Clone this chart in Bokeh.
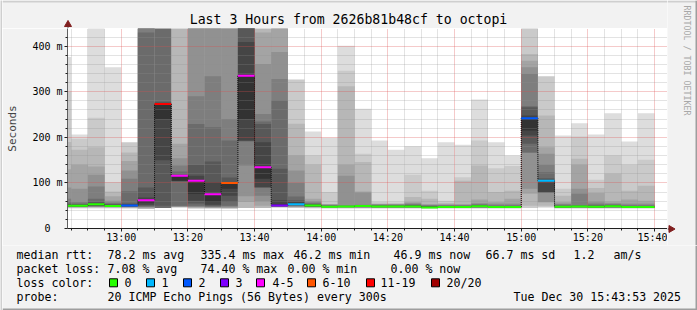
from bokeh.plotting import figure
from bokeh.layouts import column, row
from bokeh.models import FixedTicker, Range1d
from bokeh.core.properties import value
from bokeh.embed import file_html
from bokeh.resources import INLINE
from math import pi

# ---------------- data ----------------
PINGS = 20
step_start = ["12:40", "12:45", "12:50", "12:55", "13:00", "13:05", "13:10", "13:15",
              "13:20", "13:25", "13:30", "13:35", "13:40", "13:45", "13:50", "13:55",
              "14:00", "14:05", "14:10", "14:15", "14:20", "14:25", "14:30", "14:35",
              "14:40", "14:45", "14:50", "14:55", "15:00", "15:05", "15:10", "15:15",
              "15:20", "15:25", "15:30", "15:35"]
lost_pings = [0, 0, 0, 0, 2, 4, 12, 4, 4, 4, 6, 4, 4, 3, 1, 0, 0, 0,
              0, 0, 0, 0, 0, 0, 0, 0, 0, 0, 2, 1, 0, 0, 0, 0, 0, 0]
# received ping round-trip times (ms) per 5-minute step
rtt_ms = [
    [44, 45, 46, 46.5, 47, 47.5, 48, 48.5, 49, 49.5, 50, 52, 54, 57, 65, 90, 130, 190, 300, 376],
    [44, 45, 46, 46.5, 47, 47.5, 48, 48.5, 49, 49.5, 50, 51.5, 53, 55, 58, 87, 140, 173, 197, 206],
    [44, 45, 46, 47, 48, 48.5, 49, 50, 51, 52, 53, 55, 58, 65, 92, 118, 136, 178, 243, 480],
    [44, 45, 46, 46.5, 47, 47.5, 48, 48.5, 49, 49.3, 49.6, 51, 53, 55, 57, 61, 71, 81, 101.6, 354],
    [44, 45, 46, 47, 47.5, 48, 48.5, 49, 49.7, 50.4, 53, 55, 82, 109, 127, 148, 167, 189],
    [43, 45, 46, 47, 48, 50, 52, 57, 62, 68, 90, 430, 480, 520, 560, 600],
    [45, 50, 150, 240, 273, 275, 278, 500],
    [46, 47, 48, 49, 50, 103, 104, 105, 116, 117, 118, 125, 138, 154, 186, 500],
    [44, 46, 47, 48, 50, 55, 61, 76, 104.5, 116, 140, 229, 290, 480, 520, 560],
    [44, 45, 46, 47, 48, 50, 52, 58, 75, 102, 147, 222, 334, 480, 520, 560],
    [44, 46, 48, 50, 58, 72, 87, 100, 101, 112, 193, 240, 480, 520],
    [45, 58, 71, 138, 191, 192, 193, 240, 335.4, 409, 480, 520, 560, 600, 640, 680],
    [45, 50, 60, 72, 89, 90, 91, 109, 134.5, 189, 229, 235, 251, 361, 430, 470],
    [45, 46, 47, 47.5, 48, 48.5, 49, 49.5, 50.4, 53, 62, 131, 281, 328, 387, 460, 500],
    [44, 45, 46, 47, 48, 49, 50, 51, 52, 53, 55, 58, 62, 70, 100, 127, 160, 230, 327],
    [44, 45, 46, 46.5, 47, 47.5, 48, 48.5, 49, 50, 50.4, 52, 53, 55, 57, 60, 65, 140, 160, 212.6],
    [44, 44.5, 45, 45.5, 46, 46.5, 46.8, 47, 47.2, 47.4, 47.5, 48.5, 49.5, 50.5, 51.5, 52.5, 53, 54, 80, 199],
    [44, 44.5, 45, 45.5, 46, 46.5, 47, 47.3, 47.6, 47.8, 48, 49, 49.5, 50, 51, 116, 140, 312, 346, 401],
    [44, 44.5, 45, 45.5, 46, 46.5, 47, 47.5, 48, 48.5, 49.5, 50, 50.5, 51, 52, 79, 81, 146, 164, 262.5],
    [44, 44.5, 45, 45.5, 46, 46.3, 46.6, 47, 47.3, 47.6, 48, 49, 50, 51, 52, 53, 54, 55, 58, 193],
    [44, 44.5, 45, 45.5, 46, 46.3, 46.6, 47, 47.3, 47.6, 48, 49, 50, 51, 52, 53, 54, 55, 57, 173],
    [44, 44.5, 45, 45.5, 46, 46.3, 46.6, 47, 47.5, 48, 48.5, 50, 51, 52, 54, 56, 58, 69, 118, 180.6],
    [44, 44.5, 45, 45.3, 45.5, 45.7, 45.9, 46, 46.1, 46.15, 46.2, 48, 49, 50, 51, 52, 54, 65, 83, 154],
    [44, 44.5, 45, 45.5, 46, 46.2, 46.4, 46.6, 46.8, 47, 47.2, 48, 49, 50, 51, 52, 54, 56, 61, 189],
    [44, 44.5, 45, 45.5, 46, 46.2, 46.4, 46.6, 46.8, 47, 47.2, 48, 49, 50, 51, 52, 54, 105, 112.6, 184],
    [44, 44.5, 45, 45.5, 46, 46.3, 46.6, 47, 47.5, 48, 49, 50, 51, 52, 54, 56, 63.6, 138, 193, 283],
    [44, 44.5, 45, 45.5, 46, 46.2, 46.4, 46.6, 46.8, 47, 47.2, 48, 49, 50, 52, 55, 58, 80, 132, 189],
    [44, 44.5, 45, 45.5, 46, 46.2, 46.4, 46.6, 46.8, 47, 47.2, 48, 49, 50, 52, 55, 65, 83, 137, 160],
    [45, 50, 76, 87, 166, 167, 186, 204, 215, 242, 248, 266, 268, 339, 354, 368, 383, 460],
    [44, 46, 50, 57, 58, 78.5, 79, 79.5, 80, 105, 106, 107, 110, 123.5, 140, 164, 178, 248, 334],
    [44, 44.5, 45, 45.5, 46, 46.2, 46.4, 46.6, 46.8, 47, 47.5, 48.5, 49.5, 51, 53, 55, 58, 72, 87, 204],
    [44, 44.5, 45, 45.5, 46, 46.3, 46.6, 47, 47.3, 47.6, 48, 49, 50, 51, 76, 87, 140, 153, 202, 231],
    [44, 44.5, 45, 45.5, 46, 46.2, 46.4, 46.6, 46.8, 47, 47.5, 48.5, 50, 52, 55, 59, 78, 89, 107, 206],
    [44, 44.5, 45, 45.5, 46, 46.3, 46.6, 47, 47.5, 48, 49, 50, 51, 52, 54, 56, 59, 120, 160, 253],
    [44, 44.5, 45, 45.5, 46, 46.2, 46.4, 46.6, 46.8, 47, 47.2, 48, 49, 50, 52, 55, 63.6, 83, 140, 191],
    [44, 44.5, 45, 45.5, 46, 46.2, 46.4, 46.6, 46.7, 46.8, 46.9, 48, 49, 50, 52, 55, 61, 94, 151, 253],
]
loss_labels = ["0", "1", "2", "3", "4-5", "6-10", "11-19", "20/20"]
loss_colors = ["#26ff00", "#00b8ff", "#0059ff", "#7e00ff", "#ff00ff", "#ff5500", "#ff0000", "#a10000"]

y_major = [0, 100, 200, 300, 400]
y_major_labels = ["0\u00a0\u00a0", "100 m", "200 m", "300 m", "400 m"]
y_minor = [v for v in range(20, 440, 20) if v % 100]
x_major_labels = ["13:00", "13:20", "13:40", "14:00", "14:20", "14:40", "15:00", "15:20", "15:40"]

title_text = "Last 3 Hours from 2626b81b48cf to octopi"
y_title = "Seconds"
watermark = "RRDTOOL / TOBI OETIKER"
legend_rows = [
    [("median rtt:", 16), ("78.2 ms avg", 107), ("335.4 ms max", 200), ("46.2 ms min", 293),
     ("46.9 ms now", 393), ("66.7 ms sd", 485), ("1.2", 573), ("am/s", 613)],
    [("packet loss:", 16), ("7.08 % avg", 107), ("74.40 % max", 200), ("0.00 % min", 287),
     ("0.00 % now", 390)],
    [("loss color:", 16)],
    [("probe:", 16), ("20 ICMP Echo Pings (56 Bytes) every 300s", 107),
     ("Tue Dec 30 15:43:53 2025", 513)],
]
legend_row_y = [254.3, 268.3, 282.3, 296.0]
loss_box_x = [109, 146, 183, 220, 256, 307, 366, 431]
loss_label_x = [124, 161, 198, 235, 272, 322, 380, 446]

# ---------------- helpers ----------------
def to_min(s):
    h, m = s.split(":")
    return int(h) * 60 + int(m)


def loss_bin(n):
    if n <= 3:
        return n
    if n <= 5:
        return 4
    if n <= 10:
        return 5
    if n < 20:
        return 6
    return 7


MONO = "DejaVu Sans Mono"
BG = "#f2f2f2"
SHADE_A = "#cfcfcf"
SHADE_B = "#9e9e9e"
W, H = 697, 310
EDGE = 2              # left shade strip width
TOP_H = 28            # title strip height
MAIN_R = 667          # canvas x where the chart frame ends
FL = 67               # canvas x of the frame's left edge
FRAME_H = 200
MAIN_H = 217
LEG_H = H - TOP_H - MAIN_H
view_end = to_min("15:43") + 53 / 60
view_start = view_end - 180
Y_MAX = 438.8
STEP = 5

# smoke layers (smokeping style: lost pings split between bottom and top)
layers = []
med_x0, med_x1, med_y, med_c = [], [], [], []
for t, pl, lost in zip(step_start, rtt_ms, lost_pings):
    x0 = to_min(t)
    s = sorted(pl)
    lower = lost // 2
    upper = lost - lower
    cp = [None] * lower + s + [None] * upper
    for ibot in range(1, PINGS // 2 + 1):
        itop = PINGS + 1 - ibot
        b, tp = cp[ibot - 1], cp[itop - 1]
        if b is None or tp is None:
            continue
        g = int(190 / (PINGS / 2) * (PINGS / 2 - ibot)) + 50
        layers.append((ibot, x0, x0 + STEP, b, tp, "#%02x%02x%02x" % (g, g, g)))
    med_x0.append(x0)
    med_x1.append(x0 + STEP)
    med_y.append(s[len(s) // 2])
    med_c.append(loss_colors[loss_bin(lost)])
layers.sort(key=lambda r: r[0])


def blank_fig(w, h, x0, x1, y0, y1, fill=BG):
    f = figure(width=w, height=h, output_backend="svg", toolbar_location=None, title=None,
               x_range=Range1d(x0, x1), y_range=Range1d(y0, y1),
               x_axis_type=None, y_axis_type=None, min_border=0,
               background_fill_color=fill, border_fill_color=fill, outline_line_color=None)
    f.grid.visible = False
    return f


def put_text(f, xs, ys, texts, size, color="black", align="left", angle=0.0):
    f.text(x=xs, y=ys, text=texts, text_font=value(MONO), text_font_size=value(size),
           text_color=color, text_align=align, text_baseline="middle", angle=angle)


# ---------------- main chart ----------------
p = figure(width=MAIN_R - EDGE, height=MAIN_H, output_backend="svg", toolbar_location=None,
           title=None, x_range=Range1d(view_start, view_end), y_range=Range1d(0, Y_MAX),
           min_border_left=FL - EDGE, min_border_right=0, min_border_top=0,
           min_border_bottom=MAIN_H - FRAME_H, background_fill_color="white",
           border_fill_color=BG, outline_line_color=None)

smoke = p.quad(left=[r[1] for r in layers], right=[r[2] for r in layers],
               bottom=[r[3] for r in layers], top=[r[4] for r in layers],
               fill_color=[r[5] for r in layers], line_color=None)
smoke.level = "image"

bx = med_x1[:-1]
p.segment(x0=bx, x1=bx, y0=med_y[:-1], y1=med_y[1:], line_color="black",
          line_width=1, line_dash="1 1")
p.segment(x0=med_x0, x1=med_x1, y0=med_y, y1=med_y, line_color=med_c, line_width=2)

x_major = [to_min(s) for s in x_major_labels]
x_minor = [m for m in range(int(view_start) + 1, int(view_end) + 1) if m % 5 == 0 and m not in x_major]
p.xaxis.ticker = FixedTicker(ticks=x_major, minor_ticks=x_minor)
p.xaxis.major_label_overrides = {m: s for m, s in zip(x_major, x_major_labels)}
p.yaxis.ticker = FixedTicker(ticks=y_major, minor_ticks=y_minor)
p.yaxis.major_label_overrides = {v: s for v, s in zip(y_major, y_major_labels)}
for ax in (p.xaxis[0], p.yaxis[0]):
    ax.major_label_text_font = MONO
    ax.major_label_text_font_size = "10px"
    ax.major_label_text_color = "black"
    ax.axis_line_color = "#1f1f1f"
    ax.major_tick_line_color = "#1f1f1f"
    ax.minor_tick_line_color = "#1f1f1f"
    ax.major_tick_in = 0
    ax.minor_tick_in = 0
p.xaxis.major_tick_out = 3
p.xaxis.minor_tick_out = 2
p.xaxis.major_label_standoff = 0
p.yaxis.major_tick_out = 3
p.yaxis.minor_tick_out = 2
p.yaxis.major_label_standoff = 2
p.yaxis.axis_line_color = "#606060"
p.yaxis.axis_label = y_title
p.yaxis.axis_label_text_font = MONO
p.yaxis.axis_label_text_font_size = "11px"
p.yaxis.axis_label_text_font_style = "normal"
p.yaxis.axis_label_standoff = 10

for gr in (p.xgrid[0], p.ygrid[0]):
    gr.grid_line_color = "#de4f4f"
    gr.grid_line_alpha = 0.6
    gr.grid_line_dash = "1 1"
    gr.minor_grid_line_color = "#8f8f8f"
    gr.minor_grid_line_alpha = 0.5
    gr.minor_grid_line_dash = "1 1"

# ---------------- title strip ----------------
top = blank_fig(MAIN_R - EDGE, TOP_H, EDGE, MAIN_R, TOP_H, 0)
top.quad(left=[EDGE], right=[MAIN_R], top=[0], bottom=[2], fill_color=SHADE_A, line_color=None)
put_text(top, [348], [19], [title_text], "13.2px", align="center")
top.segment(x0=[FL + 0.5], x1=[FL + 0.5], y0=[23], y1=[TOP_H], line_color="#606060", line_width=1)
top.scatter(x=[FL + 0.5], y=[24], marker="triangle", size=7, color="#801f1f")

# ---------------- right strip ----------------
right = blank_fig(W - MAIN_R, TOP_H + MAIN_H, MAIN_R, W, TOP_H + MAIN_H, 0)
right.quad(left=[MAIN_R], right=[W], top=[0], bottom=[2], fill_color=SHADE_A, line_color=None)
right.quad(left=[W - 2], right=[W], top=[0], bottom=[TOP_H + MAIN_H], fill_color=SHADE_B,
           line_color=None)
put_text(right, [686.7], [5], [watermark], "8.3px", color="#a8a8a8", angle=-pi / 2)
right.segment(x0=[MAIN_R], x1=[670], y0=[TOP_H + FRAME_H + 0.5], y1=[TOP_H + FRAME_H + 0.5],
              line_color="#1f1f1f", line_width=1)
right.scatter(x=[670.5], y=[TOP_H + FRAME_H + 0.5], marker="triangle", size=7, angle=-pi / 2,
              color="#801f1f")

# ---------------- legend strip ----------------
leg = blank_fig(W - EDGE, LEG_H, EDGE, W, H, TOP_H + MAIN_H)
for rowi, yy in zip(legend_rows, legend_row_y):
    put_text(leg, [it[1] for it in rowi], [yy] * len(rowi), [it[0] for it in rowi], "11.6px")
leg.quad(left=loss_box_x, right=[x + 8 for x in loss_box_x],
         top=[legend_row_y[2] - 4] * len(loss_box_x), bottom=[legend_row_y[2] + 4] * len(loss_box_x),
         fill_color=loss_colors, line_color="black", line_width=1)
put_text(leg, loss_label_x, [legend_row_y[2]] * len(loss_labels), loss_labels, "11.6px")
leg.quad(left=[EDGE], right=[W], top=[H - 2], bottom=[H], fill_color=SHADE_B, line_color=None)
leg.quad(left=[W - 2], right=[W], top=[TOP_H + MAIN_H], bottom=[H], fill_color=SHADE_B,
         line_color=None)

# ---------------- left shade strip ----------------
left = blank_fig(EDGE, H, 0, EDGE, H, 0, fill=SHADE_A)

# wrap the title strip in its own row so its frame is not aligned with the chart frame
body = column(row(column(row(top), p), right), leg)
layout = row(left, body)
open("out.html", "w").write(file_html(layout, INLINE))
